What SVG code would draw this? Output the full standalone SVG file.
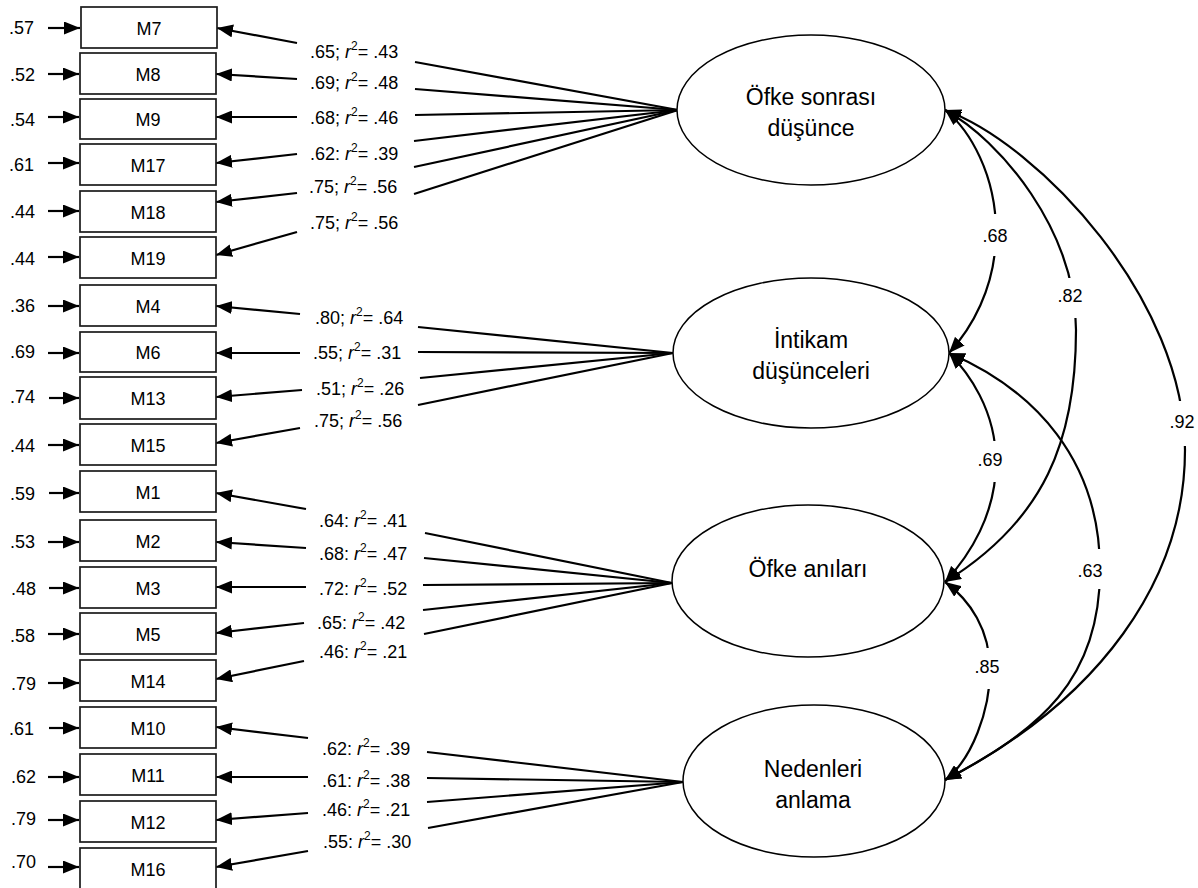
<svg xmlns="http://www.w3.org/2000/svg" width="1198" height="888" viewBox="0 0 1198 888">
<style>
.box{fill:#fff;stroke:#1a1a1a;stroke-width:1.7}
.lat{fill:#fff;stroke:#000;stroke-width:1.5}
.ln{stroke:#000;stroke-width:2.2;fill:none}
.arr{marker-end:url(#ah)}
.dbl{marker-start:url(#ah);marker-end:url(#ah)}
text{font-family:"Liberation Sans",Arial,sans-serif;font-size:18px;fill:#000}
.c{text-anchor:middle}
.e{text-anchor:end}
.big{font-size:23px}
.it{font-style:italic}
.sup{font-size:12px}
.bg{fill:#fff;stroke:none}
</style>
<defs>
<marker id="ah" viewBox="0 0 16 13" refX="16" refY="6.5" markerWidth="16" markerHeight="13" markerUnits="userSpaceOnUse" orient="auto-start-reverse"><path d="M0,0 L16,6.5 L0,13 z" fill="#000"/></marker>
</defs>

<g id="connectors">
<g class="ln arr">
<line x1="48" y1="28" x2="80" y2="28"/>
<line x1="48" y1="74" x2="79" y2="74"/>
<line x1="48" y1="117" x2="79" y2="117"/>
<line x1="48" y1="163" x2="79" y2="163"/>
<line x1="48" y1="211" x2="79" y2="211"/>
<line x1="48" y1="257" x2="79" y2="257"/>
<line x1="48" y1="306" x2="79" y2="306"/>
<line x1="48" y1="353" x2="79" y2="353"/>
<line x1="49" y1="398" x2="79" y2="398"/>
<line x1="48" y1="445" x2="79" y2="445"/>
<line x1="49" y1="493" x2="79" y2="493"/>
<line x1="48" y1="542" x2="79" y2="542"/>
<line x1="49" y1="588" x2="79" y2="588"/>
<line x1="48" y1="634" x2="79" y2="634"/>
<line x1="48" y1="683" x2="79" y2="683"/>
<line x1="49" y1="728" x2="79" y2="728"/>
<line x1="48" y1="777" x2="79" y2="777"/>
<line x1="48" y1="820" x2="79" y2="820"/>
<line x1="48" y1="867" x2="79" y2="867"/>
</g>
<g class="ln arr">
<line x1="297" y1="43" x2="217" y2="28"/>
<line x1="297" y1="79" x2="216" y2="74"/>
<line x1="297" y1="117" x2="216" y2="117"/>
<line x1="297" y1="154" x2="216" y2="163"/>
<line x1="297" y1="193" x2="216" y2="202"/>
<line x1="297" y1="232" x2="216" y2="255"/>
<line x1="300" y1="314" x2="216" y2="306"/>
<line x1="300" y1="353" x2="216" y2="353"/>
<line x1="302" y1="390" x2="216" y2="397"/>
<line x1="300" y1="428" x2="216" y2="443"/>
<line x1="306" y1="509" x2="216" y2="493"/>
<line x1="306" y1="548" x2="216" y2="542"/>
<line x1="306" y1="587" x2="216" y2="587"/>
<line x1="304" y1="623" x2="216" y2="633"/>
<line x1="304" y1="661" x2="216" y2="679"/>
<line x1="308" y1="738" x2="216" y2="727"/>
<line x1="308" y1="777" x2="216" y2="777"/>
<line x1="308" y1="813" x2="216" y2="820"/>
<line x1="308" y1="851" x2="216" y2="867"/>
</g>
<g class="ln">
<line x1="678" y1="110" x2="415" y2="62"/>
<line x1="678" y1="110" x2="415" y2="89"/>
<line x1="678" y1="110" x2="415" y2="115"/>
<line x1="678" y1="110" x2="414" y2="141"/>
<line x1="678" y1="110" x2="414" y2="167"/>
<line x1="678" y1="110" x2="414" y2="194"/>
<line x1="673" y1="353" x2="418" y2="327"/>
<line x1="673" y1="353" x2="418" y2="352"/>
<line x1="673" y1="353" x2="420" y2="378"/>
<line x1="673" y1="353" x2="418" y2="405"/>
<line x1="672" y1="583" x2="425" y2="533"/>
<line x1="672" y1="583" x2="424" y2="558"/>
<line x1="672" y1="583" x2="423" y2="585"/>
<line x1="672" y1="583" x2="423" y2="610"/>
<line x1="672" y1="583" x2="424" y2="634"/>
<line x1="683" y1="782" x2="427" y2="752"/>
<line x1="683" y1="782" x2="427" y2="778"/>
<line x1="683" y1="782" x2="427" y2="802"/>
<line x1="683" y1="782" x2="428" y2="828"/>
</g>
<g class="ln dbl">
<path d="M945,110 C970,130 996,175 996,232 S970,330 949,353"/>
<path d="M945,110 C1000,140 1076,230 1076,330 C1076,440 1045,520 945,582"/>
<path d="M945,110 C1040,145 1185,300 1185,450 C1185,580 1100,700 945,780"/>
<path d="M949,353 C968,372 996,410 996,462 S970,555 945,582"/>
<path d="M949,353 C1035,390 1100,460 1100,570 C1100,680 1040,730 945,780"/>
<path d="M945,582 C970,600 990,630 990,670 S972,760 945,780"/>
</g>
<g>
<rect class="bg" x="981" y="214" width="30" height="42"/>
<text class="c" x="995" y="242">.68</text>
<rect class="bg" x="1055" y="278" width="32" height="40"/>
<text class="c" x="1070" y="302">.82</text>
<rect class="bg" x="1167" y="401" width="31" height="45"/>
<text class="c" x="1182" y="428">.92</text>
<rect class="bg" x="975" y="441" width="30" height="41"/>
<text class="c" x="990" y="466">.69</text>
<rect class="bg" x="1075" y="549" width="32" height="40"/>
<text class="c" x="1090" y="577">.63</text>
<rect class="bg" x="973" y="648" width="30" height="41"/>
<text class="c" x="987" y="673">.85</text>
</g>
</g>

<g id="loadings">
<text x="310" y="58">.65; <tspan class="it">r</tspan><tspan class="sup" dy="-8">2</tspan><tspan dy="8">= .43</tspan></text>
<text x="310" y="89">.69; <tspan class="it">r</tspan><tspan class="sup" dy="-8">2</tspan><tspan dy="8">= .48</tspan></text>
<text x="310" y="124">.68; <tspan class="it">r</tspan><tspan class="sup" dy="-8">2</tspan><tspan dy="8">= .46</tspan></text>
<text x="310" y="160">.62: <tspan class="it">r</tspan><tspan class="sup" dy="-8">2</tspan><tspan dy="8">= .39</tspan></text>
<text x="309" y="193">.75; <tspan class="it">r</tspan><tspan class="sup" dy="-8">2</tspan><tspan dy="8">= .56</tspan></text>
<text x="310" y="229">.75; <tspan class="it">r</tspan><tspan class="sup" dy="-8">2</tspan><tspan dy="8">= .56</tspan></text>
<text x="315" y="324">.80; <tspan class="it">r</tspan><tspan class="sup" dy="-8">2</tspan><tspan dy="8">= .64</tspan></text>
<text x="313" y="359">.55; <tspan class="it">r</tspan><tspan class="sup" dy="-8">2</tspan><tspan dy="8">= .31</tspan></text>
<text x="316" y="395">.51; <tspan class="it">r</tspan><tspan class="sup" dy="-8">2</tspan><tspan dy="8">= .26</tspan></text>
<text x="314" y="427">.75; <tspan class="it">r</tspan><tspan class="sup" dy="-8">2</tspan><tspan dy="8">= .56</tspan></text>
<text x="319" y="527">.64: <tspan class="it">r</tspan><tspan class="sup" dy="-8">2</tspan><tspan dy="8">= .41</tspan></text>
<text x="319" y="560">.68: <tspan class="it">r</tspan><tspan class="sup" dy="-8">2</tspan><tspan dy="8">= .47</tspan></text>
<text x="319" y="595">.72: <tspan class="it">r</tspan><tspan class="sup" dy="-8">2</tspan><tspan dy="8">= .52</tspan></text>
<text x="317" y="629">.65: <tspan class="it">r</tspan><tspan class="sup" dy="-8">2</tspan><tspan dy="8">= .42</tspan></text>
<text x="319" y="658">.46: <tspan class="it">r</tspan><tspan class="sup" dy="-8">2</tspan><tspan dy="8">= .21</tspan></text>
<text x="322" y="755">.62: <tspan class="it">r</tspan><tspan class="sup" dy="-8">2</tspan><tspan dy="8">= .39</tspan></text>
<text x="322" y="787">.61: <tspan class="it">r</tspan><tspan class="sup" dy="-8">2</tspan><tspan dy="8">= .38</tspan></text>
<text x="322" y="816">.46: <tspan class="it">r</tspan><tspan class="sup" dy="-8">2</tspan><tspan dy="8">= .21</tspan></text>
<text x="323" y="848">.55: <tspan class="it">r</tspan><tspan class="sup" dy="-8">2</tspan><tspan dy="8">= .30</tspan></text>
</g>

<g id="residuals">
<text class="e" x="34" y="34">.57</text>
<text class="e" x="35" y="81">.52</text>
<text class="e" x="35" y="126">.54</text>
<text class="e" x="34" y="171">.61</text>
<text class="e" x="35" y="218">.44</text>
<text class="e" x="35" y="265">.44</text>
<text class="e" x="35" y="312">.36</text>
<text class="e" x="35" y="358">.69</text>
<text class="e" x="35" y="403">.74</text>
<text class="e" x="35" y="452">.44</text>
<text class="e" x="35" y="500">.59</text>
<text class="e" x="35" y="548">.53</text>
<text class="e" x="36" y="595">.48</text>
<text class="e" x="35" y="642">.58</text>
<text class="e" x="36" y="690">.79</text>
<text class="e" x="34" y="735">.61</text>
<text class="e" x="36" y="783">.62</text>
<text class="e" x="36" y="825">.79</text>
<text class="e" x="36" y="868">.70</text>
</g>

<g id="M7"><rect class="box" x="81" y="7" width="136" height="41"/><text class="c" x="149" y="35">M7</text></g>
<g id="M8"><rect class="box" x="80" y="53" width="136" height="41"/><text class="c" x="148" y="81">M8</text></g>
<g id="M9"><rect class="box" x="80" y="99" width="136" height="40"/><text class="c" x="148" y="126">M9</text></g>
<g id="M17"><rect class="box" x="80" y="144" width="136" height="41"/><text class="c" x="148" y="172">M17</text></g>
<g id="M18"><rect class="box" x="80" y="191" width="136" height="41"/><text class="c" x="148" y="219">M18</text></g>
<g id="M19"><rect class="box" x="80" y="237" width="136" height="41"/><text class="c" x="148" y="265">M19</text></g>
<g id="M4"><rect class="box" x="80" y="285" width="136" height="41"/><text class="c" x="148" y="313">M4</text></g>
<g id="M6"><rect class="box" x="80" y="332" width="136" height="40"/><text class="c" x="148" y="359">M6</text></g>
<g id="M13"><rect class="box" x="80" y="377" width="136" height="42"/><text class="c" x="148" y="405">M13</text></g>
<g id="M15"><rect class="box" x="80" y="424" width="136" height="41"/><text class="c" x="148" y="452">M15</text></g>
<g id="M1"><rect class="box" x="80" y="471" width="136" height="41"/><text class="c" x="148" y="499">M1</text></g>
<g id="M2"><rect class="box" x="80" y="520" width="136" height="41"/><text class="c" x="148" y="548">M2</text></g>
<g id="M3"><rect class="box" x="80" y="567" width="136" height="41"/><text class="c" x="148" y="595">M3</text></g>
<g id="M5"><rect class="box" x="80" y="613" width="136" height="41"/><text class="c" x="148" y="641">M5</text></g>
<g id="M14"><rect class="box" x="80" y="660" width="136" height="41"/><text class="c" x="148" y="688">M14</text></g>
<g id="M10"><rect class="box" x="80" y="707" width="136" height="41"/><text class="c" x="148" y="735">M10</text></g>
<g id="M11"><rect class="box" x="80" y="754" width="136" height="41"/><text class="c" x="148" y="782">M11</text></g>
<g id="M12"><rect class="box" x="80" y="801" width="136" height="41"/><text class="c" x="148" y="829">M12</text></g>
<g id="M16"><rect class="box" x="80" y="848" width="136" height="42"/><text class="c" x="148" y="876">M16</text></g>

<g id="F1"><ellipse class="lat" cx="811" cy="110" rx="134" ry="75"/><text class="c big" x="811" y="105">Öfke sonrası</text><text class="c big" x="811" y="136">düşünce</text></g>
<g id="F2"><ellipse class="lat" cx="811" cy="353" rx="138" ry="75"/><text class="c big" x="811" y="348">İntikam</text><text class="c big" x="811" y="379">düşünceleri</text></g>
<g id="F3"><ellipse class="lat" cx="808" cy="581" rx="136" ry="76"/><text class="c big" x="808" y="577">Öfke anıları</text></g>
<g id="F4"><ellipse class="lat" cx="814" cy="781" rx="131" ry="76"/><text class="c big" x="813" y="777">Nedenleri</text><text class="c big" x="813" y="808">anlama</text></g>
</svg>
